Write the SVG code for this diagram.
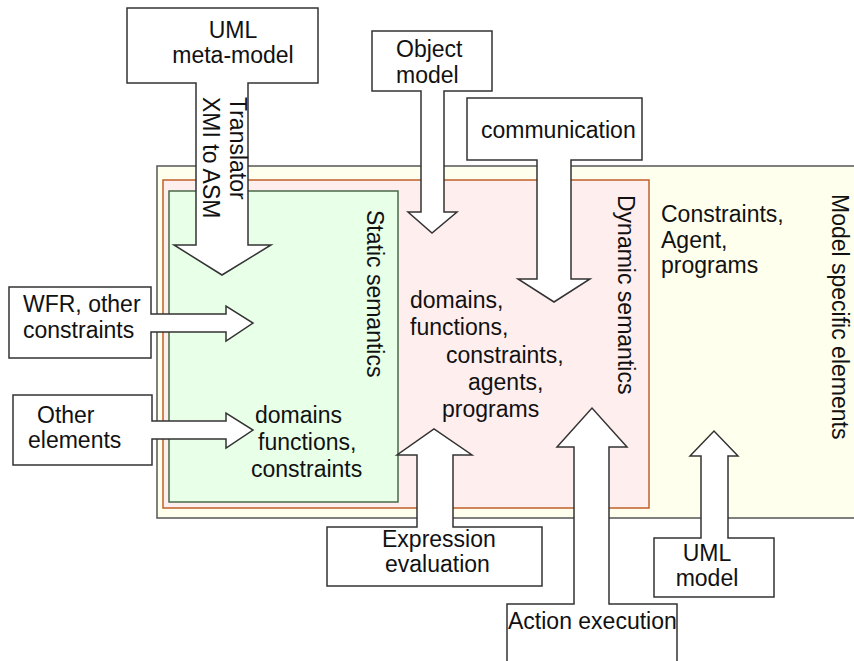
<svg xmlns="http://www.w3.org/2000/svg" width="854" height="661" viewBox="0 0 854 661">
<style>
text{font-family:"Liberation Sans",Arial,sans-serif;font-size:23px;fill:#111}
.blk{fill:#fff;stroke:#333;stroke-width:1.5;stroke-linejoin:miter}
</style>
<rect x="0" y="0" width="854" height="661" fill="#fff"/>
<g id="model-specific">
<rect x="157" y="166" width="710" height="352" fill="#ffffee" stroke="#555" stroke-width="1.5"/>
<text transform="translate(832,194) rotate(90)">Model specific elements</text>
<text x="661" y="222">Constraints,</text>
<text x="661" y="248">Agent,</text>
<text x="661" y="273">programs</text>
</g>
<g id="dynamic-semantics">
<rect x="163" y="180" width="486" height="328" fill="#ffeeee" stroke="#c0602a" stroke-width="1.5"/>
<text transform="translate(618,195) rotate(90)">Dynamic semantics</text>
<text x="410" y="308">domains,</text>
<text x="410" y="335">functions,</text>
<text x="446" y="363">constraints,</text>
<text x="468" y="390">agents,</text>
<text x="442" y="417">programs</text>
</g>
<g id="static-semantics">
<rect x="169" y="191" width="229" height="311" fill="#e8ffe8" stroke="#4a6a4a" stroke-width="1.5"/>
<text transform="translate(367,210) rotate(90)">Static semantics</text>
<text x="255" y="423">domains</text>
<text x="258" y="450">functions,</text>
<text x="251" y="477">constraints</text>
</g>
<g id="connectors">
<g id="uml-meta-model">
<path class="blk" d="M127,8 H318 V83 H248 V245 H271 L222,275 L174,245 H196 V83 H127 Z"/>
<text x="233" y="38" text-anchor="middle">UML</text>
<text x="233" y="63" text-anchor="middle">meta-model</text>
<text transform="translate(230,97) rotate(90)">Translator</text>
<text transform="translate(203,97) rotate(90)">XMI to ASM</text>
</g>
<g id="object-model">
<path class="blk" d="M372,31 H492 V91 H444 V212 H457 L432,233 L408,212 H421 V91 H372 Z"/>
<text x="396" y="57">Object</text>
<text x="396" y="83">model</text>
</g>
<g id="communication">
<path class="blk" d="M467,98 H642 V160 H571 V279 H590 L554,302 L518,279 H537 V160 H467 Z"/>
<text x="481" y="138">communication</text>
</g>
<g id="wfr">
<path class="blk" d="M9,287 H151 V314 H226 V306 L253,323 L226,341 V332 H151 V358 H9 Z"/>
<text x="23" y="312">WFR, other</text>
<text x="23" y="338">constraints</text>
</g>
<g id="other-elements">
<path class="blk" d="M13,395 H152 V421 H226 V413 L253,430 L226,448 V439 H152 V465 H13 Z"/>
<text x="37" y="423">Other</text>
<text x="28" y="448">elements</text>
</g>
<g id="expression-evaluation">
<path class="blk" d="M327,527 H417 V455 H397 L434,429 L472,455 H453 V527 H542 V586 H327 Z"/>
<text x="382" y="547">Expression</text>
<text x="385" y="572">evaluation</text>
</g>
<g id="action-execution">
<path class="blk" d="M507,670 V604 H574 V447 H557 L592,408 L627,447 H609 V604 H677 V670"/>
<text x="508" y="629">Action execution</text>
</g>
<g id="uml-model">
<path class="blk" d="M654,538 H701 V456 H690 L714,431 L738,456 H728 V538 H774 V597 H654 Z"/>
<text x="707" y="561" text-anchor="middle">UML</text>
<text x="707" y="586" text-anchor="middle">model</text>
</g>
</g>
</svg>
